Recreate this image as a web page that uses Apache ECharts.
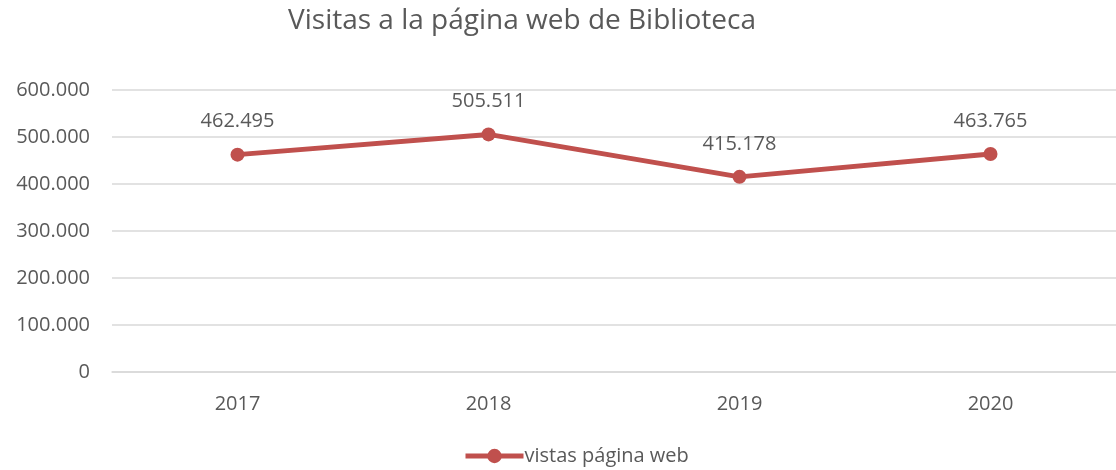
<!DOCTYPE html>
<html>
<head>
<meta charset="utf-8">
<script src="https://cdn.jsdelivr.net/npm/echarts@6/dist/echarts.min.js"></script>
<style>
  html, body { margin: 0; padding: 0; background: #fff; }
  #chart { width: 1116px; height: 470px; }
</style>
</head>
<body>
<div id="chart"></div>
<script>
const years = ['2017', '2018', '2019', '2020']
const visits = [462495, 505511, 415178, 463765]
const seriesName = 'vistas página web'
const titleText = 'Visitas a la página web de Biblioteca'

const red = '#c0504d'
const textColor = '#595959'
const font = 'Open Sans'

// 462495 -> "462.495"
const fmt = (v) => String(v).replace(/\B(?=(\d{3})+(?!\d))/g, '.')

const chart = echarts.init(document.getElementById('chart'))
chart.setOption({
  animation: false,
  textStyle: { fontFamily: font },
  title: {
    text: titleText,
    left: 517,
    textAlign: 'center',
    top: 2,
    textStyle: { color: textColor, fontSize: 28, fontWeight: 'normal', fontFamily: font },
  },
  legend: {
    top: 441,
    left: 458,
    itemWidth: 58,
    itemHeight: 18,
    itemGap: 0,
    lineStyle: { width: 5 },
    textStyle: { color: textColor, fontSize: 20, fontFamily: font, padding: [0, 0, 0, -4] },
    data: [seriesName],
  },
  grid: { left: 112, right: 0, top: 90, bottom: 98 },
  xAxis: {
    type: 'category',
    data: years,
    boundaryGap: true,
    axisLine: { lineStyle: { color: '#d9d9d9', width: 1.5 } },
    axisTick: { show: false },
    axisLabel: { color: textColor, fontSize: 20, margin: 22, fontFamily: font },
  },
  yAxis: {
    type: 'value',
    min: 0,
    max: 600000,
    interval: 100000,
    axisLine: { show: false },
    axisTick: { show: false },
    splitLine: { lineStyle: { color: '#d9d9d9', width: 1.5 } },
    axisLabel: { color: textColor, fontSize: 20, margin: 22, fontFamily: font, formatter: fmt },
  },
  series: [
    {
      name: seriesName,
      type: 'line',
      data: visits,
      symbol: 'circle',
      symbolSize: 14,
      lineStyle: { color: red, width: 5 },
      itemStyle: { color: red },
      label: {
        show: true,
        position: 'top',
        distance: 16,
        color: textColor,
        fontSize: 20,
        fontFamily: font,
        formatter: (p) => fmt(p.value),
      },
    },
  ],
})
</script>
</body>
</html>
